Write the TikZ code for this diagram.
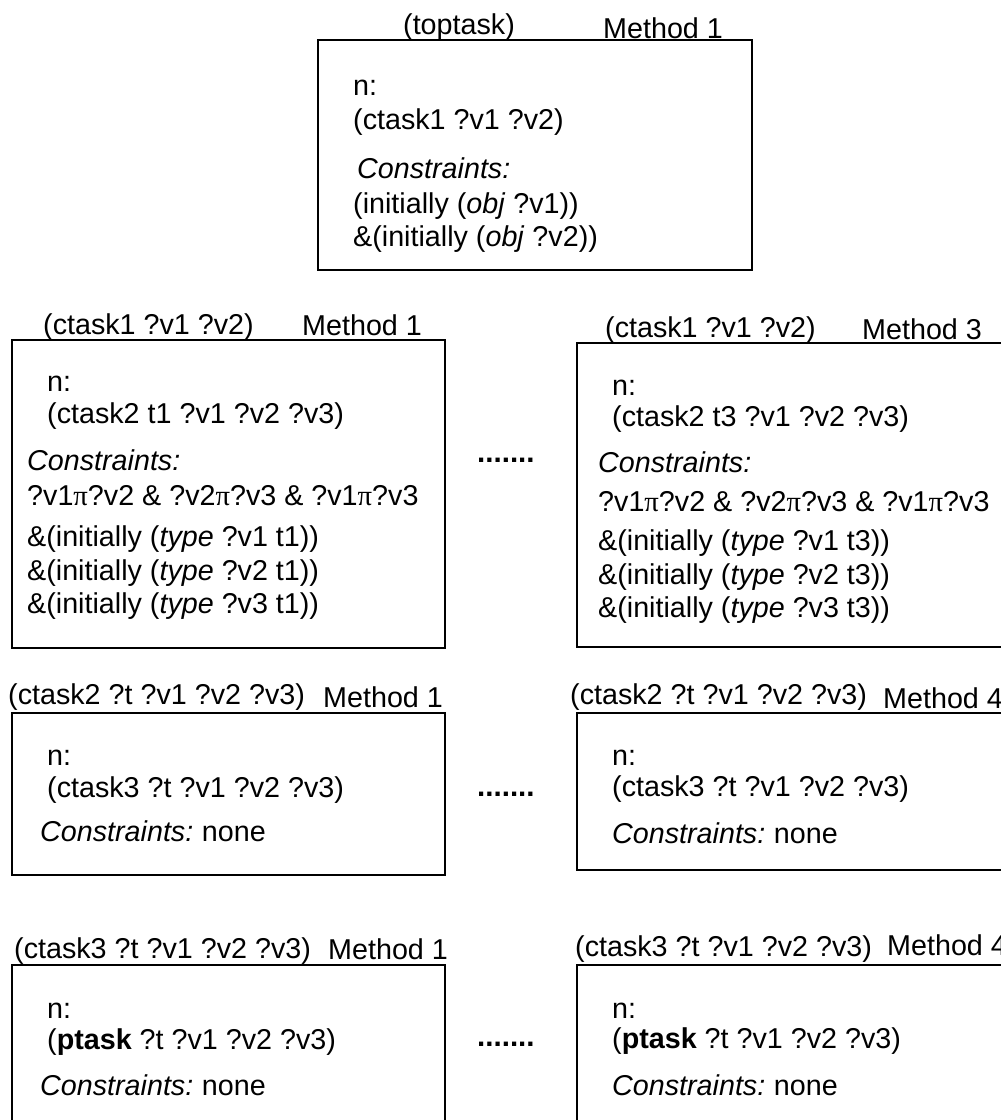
\documentclass[tikz,border=0pt]{standalone}
\usepackage{fontspec}
\setmainfont{Liberation Sans}
\newfontfamily\greekfont{Liberation Serif}
\newcommand{\pisym}{{\greekfont π}}
\begin{document}
\begin{tikzpicture}[x=1pt,y=-1pt,
  box/.style={draw, line width=2.2pt, anchor=north west, inner sep=0pt, outer sep=0pt},
  txt/.style={anchor=base west, inner sep=0pt, font=\fontsize{28.7}{34}\selectfont},
  dots/.style={anchor=base west, inner sep=0pt, font=\fontsize{29.5}{34}\selectfont\bfseries}]
\useasboundingbox (0,0) rectangle (1001,1120);
\clip (0,0) rectangle (1001,1120);

% ---------- top method ----------
\node[box, minimum width=434pt, minimum height=230pt] (top) at (318,40) {};
\node[txt] (topT) at (403,34) {(toptask)};
\node[txt] (topM) at (603,38) {Method 1};
\node[txt] (top1) at (353,95) {n:};
\node[txt] (top2) at (353,129) {(ctask1 ?v1 ?v2)};
\node[txt] (top3) at (357,178) {\textit{Constraints:}};
\node[txt] (top4) at (353,213) {(initially (\textit{obj} ?v1))};
\node[txt] (top5) at (353,246) {\&(initially (\textit{obj} ?v2))};

% ---------- ctask1, method 1 ----------
\node[box, minimum width=433pt, minimum height=308pt] (a1) at (12,340) {};
\node[txt] (a1T) at (43,334) {(ctask1 ?v1 ?v2)};
\node[txt] (a1M) at (302,335) {Method 1};
\node[txt] (a1l1) at (47,391) {n:};
\node[txt] (a1l2) at (47,423) {(ctask2 t1 ?v1 ?v2 ?v3)};
\node[txt] (a1l3) at (27,470) {\textit{Constraints:}};
\node[txt] (a1l4) at (27,505) {?v1\pisym?v2 \& ?v2\pisym?v3 \& ?v1\pisym?v3};
\node[txt] (a1l5) at (27,546) {\&(initially (\textit{type} ?v1 t1))};
\node[txt] (a1l6) at (27,580) {\&(initially (\textit{type} ?v2 t1))};
\node[txt] (a1l7) at (27,613) {\&(initially (\textit{type} ?v3 t1))};

\node[dots] (d1) at (477,462) {.......};

% ---------- ctask1, method 3 ----------
\node[box, minimum width=460pt, minimum height=304pt] (a3) at (577,343) {};
\node[txt] (a3T) at (605,337) {(ctask1 ?v1 ?v2)};
\node[txt] (a3M) at (862,339) {Method 3};
\node[txt] (a3l1) at (612,395) {n:};
\node[txt] (a3l2) at (612,426) {(ctask2 t3 ?v1 ?v2 ?v3)};
\node[txt] (a3l3) at (598,472) {\textit{Constraints:}};
\node[txt] (a3l4) at (598,511) {?v1\pisym?v2 \& ?v2\pisym?v3 \& ?v1\pisym?v3};
\node[txt] (a3l5) at (598,550) {\&(initially (\textit{type} ?v1 t3))};
\node[txt] (a3l6) at (598,584) {\&(initially (\textit{type} ?v2 t3))};
\node[txt] (a3l7) at (598,617) {\&(initially (\textit{type} ?v3 t3))};

% ---------- ctask2, method 1 ----------
\node[box, minimum width=433pt, minimum height=162pt] (b1) at (12,713) {};
\node[txt] (b1T) at (8,704) {(ctask2 ?t ?v1 ?v2 ?v3)};
\node[txt] (b1M) at (323,707) {Method 1};
\node[txt] (b1l1) at (47,765) {n:};
\node[txt] (b1l2) at (47,797) {(ctask3 ?t ?v1 ?v2 ?v3)};
\node[txt] (b1l3) at (40,841) {\textit{Constraints:}\kern-2pt{} none};

\node[dots] (d2) at (477,796) {.......};

% ---------- ctask2, method 4 ----------
\node[box, minimum width=460pt, minimum height=157pt] (b4) at (577,713) {};
\node[txt] (b4T) at (570,704) {(ctask2 ?t ?v1 ?v2 ?v3)};
\node[txt] (b4M) at (883,708) {Method 4};
\node[txt] (b4l1) at (612,765) {n:};
\node[txt] (b4l2) at (612,796) {(ctask3 ?t ?v1 ?v2 ?v3)};
\node[txt] (b4l3) at (612,843) {\textit{Constraints:}\kern-2pt{} none};

% ---------- ctask3, method 1 ----------
\node[box, minimum width=433pt, minimum height=200pt] (c1) at (12,965) {};
\node[txt] (c1T) at (14,958) {(ctask3 ?t ?v1 ?v2 ?v3)};
\node[txt] (c1M) at (328,959) {Method 1};
\node[txt] (c1l1) at (47,1018) {n:};
\node[txt] (c1l2) at (47,1049) {(\textbf{ptask} ?t ?v1 ?v2 ?v3)};
\node[txt] (c1l3) at (40,1095) {\textit{Constraints:}\kern-2pt{} none};

\node[dots] (d3) at (477,1046) {.......};

% ---------- ctask3, method 4 ----------
\node[box, minimum width=460pt, minimum height=200pt] (c4) at (577,965) {};
\node[txt] (c4T) at (575,956) {(ctask3 ?t ?v1 ?v2 ?v3)};
\node[txt] (c4M) at (887,955) {Method 4};
\node[txt] (c4l1) at (612,1018) {n:};
\node[txt] (c4l2) at (612,1048) {(\textbf{ptask} ?t ?v1 ?v2 ?v3)};
\node[txt] (c4l3) at (612,1095) {\textit{Constraints:}\kern-2pt{} none};
\end{tikzpicture}
\end{document}
